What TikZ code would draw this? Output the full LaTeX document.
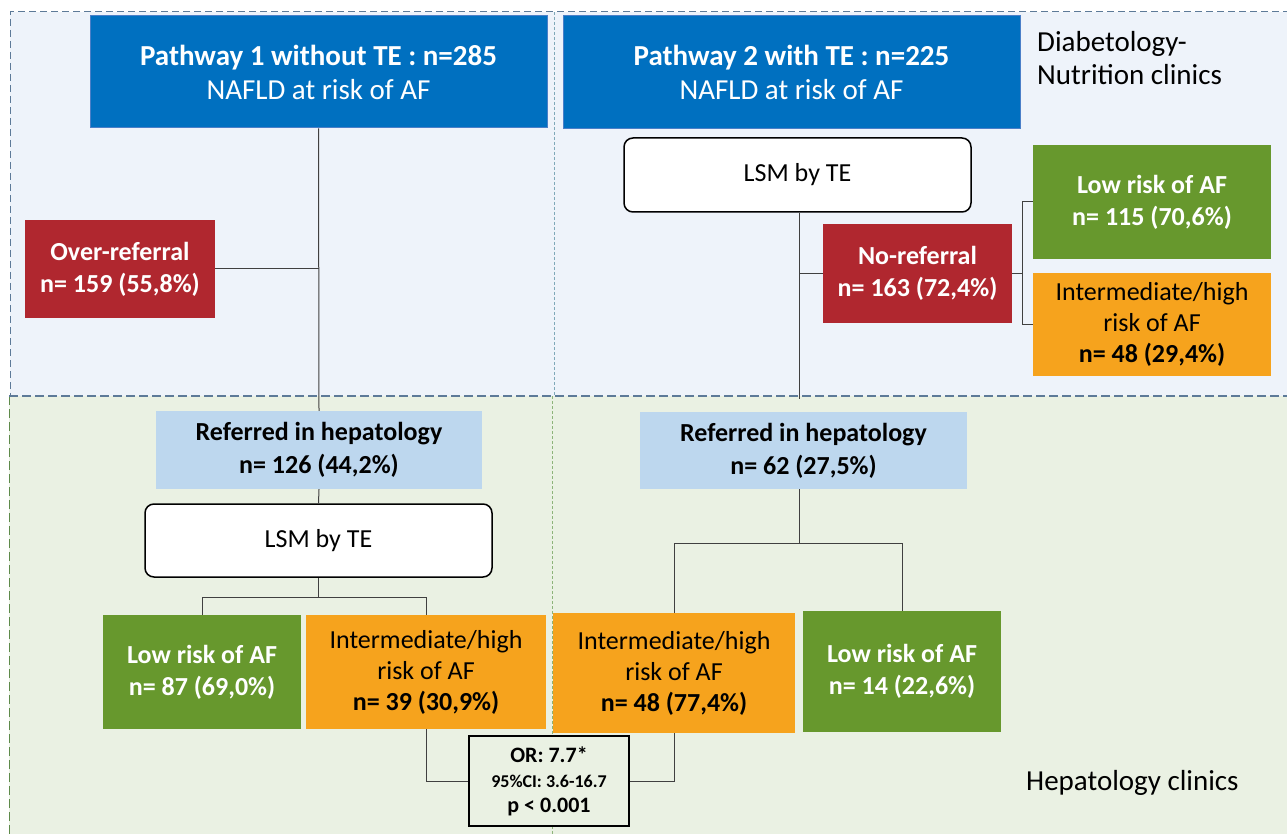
\documentclass[tikz,border=0pt]{standalone}
\usepackage{fontspec}
\setmainfont{Carlito}
\usetikzlibrary{calc}
\definecolor{pblue}{HTML}{0070C0}
\definecolor{pblueedge}{HTML}{4A7FC8}
\definecolor{pred}{HTML}{B0272F}
\definecolor{pgreen}{HTML}{67982D}
\definecolor{porange}{HTML}{F6A31D}
\definecolor{plight}{HTML}{BDD7EE}
\definecolor{topbg}{HTML}{EEF3FA}
\definecolor{botbg}{HTML}{EAF1E3}
\definecolor{topedge}{HTML}{5D7A98}
\definecolor{botedge}{HTML}{5E8A4A}
\definecolor{divtop}{HTML}{7FA8B8}
\definecolor{divbot}{HTML}{8DB47A}
\definecolor{linkc}{HTML}{404040}
\begin{document}
\begin{tikzpicture}[x=1pt,y=-1pt,
  base/.style={inner sep=0pt, align=center, font=\fontsize{26}{31}\selectfont},
  bluebox/.style={base, fill=pblue, draw=pblueedge, line width=1pt, text=white, font=\fontsize{29}{34}\selectfont},
  redbox/.style={base, fill=pred, text=white, font=\fontsize{26}{32}\selectfont\bfseries},
  greenbox/.style={base, fill=pgreen, text=white, font=\fontsize{26}{32}\selectfont\bfseries},
  orangebox/.style={base, fill=porange, text=black},
  lightbox/.style={base, fill=plight, text=black, font=\fontsize{26}{33}\selectfont\bfseries},
  lsmbox/.style={base, fill=white, draw=black, line width=1.5pt, rounded corners=9pt},
  orbox/.style={inner sep=0pt, align=center, draw=black, line width=1.5pt, fill=botbg, font=\fontsize{22}{25}\selectfont},
  zonelabel/.style={inner sep=0pt, align=left, font=\fontsize{29}{33}\selectfont, text=black},
  link/.style={draw=linkc, line width=1pt}
]
\useasboundingbox (0,0) rectangle (1287,834);
% zones
\fill[white] (0,0) rectangle (1287,834);
\fill[topbg] (10,12) rectangle (1290,396);
\fill[botbg] (9,396) rectangle (1290,840);
\draw[topedge, line width=1pt, dash pattern=on 7pt off 4pt] (1290,12) -- (10,12) -- (10,396);
\draw[botedge, line width=1pt, dash pattern=on 9pt off 4pt] (9,396) -- (9,840);
\draw[topedge, line width=1.3pt, dash pattern=on 9pt off 4pt] (9,396) -- (1290,396);
\draw[divtop, line width=0.8pt, dash pattern=on 3pt off 2pt] (554,12) -- (554,396);
\draw[divbot, line width=0.8pt, dash pattern=on 3pt off 2pt] (552,396) -- (552,834);

% top nodes
\node[bluebox, minimum width=457, minimum height=112] (p1) at (318.5,72)
  {{\bfseries Pathway 1 without TE : n=285}\\NAFLD at risk of AF};
\node[bluebox, minimum width=457, minimum height=113] (p2) at (791.5,72.5)
  {{\bfseries Pathway 2 with TE : n=225}\\NAFLD at risk of AF};
\node[zonelabel, anchor=west] (dlab) at (1037,58.5) {Diabetology-\\Nutrition clinics};
\node[redbox, minimum width=190, minimum height=98] (over) at (120,269)
  {Over-referral\\n= 159 (55,8\%)};
\node[lsmbox, minimum width=347, minimum height=74] (lsm2) at (797.5,175) {LSM by TE};
\node[redbox, minimum width=189, minimum height=99] (noref) at (917.5,273.5)
  {No-referral\\n= 163 (72,4\%)};
\node[greenbox, minimum width=238, minimum height=114] (low2) at (1152,202)
  {Low risk of AF\\n= 115 (70,6\%)};
\node[orangebox, minimum width=238, minimum height=103] (int2) at (1152,324.5)
  {Intermediate/high\\risk of AF\\{\bfseries n= 48 (29,4\%)}};

% bottom nodes
\node[lightbox, minimum width=326, minimum height=78] (ref1) at (319,450)
  {Referred in hepatology\\n= 126 (44,2\%)};
\node[lsmbox, minimum width=347, minimum height=73] (lsm1) at (318.5,540.5) {LSM by TE};
\node[greenbox, minimum width=198, minimum height=114] (low1) at (202,672)
  {Low risk of AF\\n= 87 (69,0\%)};
\node[orangebox, minimum width=240, minimum height=114] (int1) at (426,672)
  {Intermediate/high\\risk of AF\\{\bfseries n= 39 (30,9\%)}};
\node[lightbox, minimum width=327, minimum height=77] (ref2) at (803.5,450.5)
  {Referred in hepatology\\n= 62 (27,5\%)};
\node[orangebox, minimum width=242, minimum height=120] (int3) at (674,673)
  {Intermediate/high\\risk of AF\\{\bfseries n= 48 (77,4\%)}};
\node[greenbox, minimum width=198, minimum height=121] (low3) at (902,671.5)
  {Low risk of AF\\n= 14 (22,6\%)};
\node[orbox, minimum width=160, minimum height=90] (or) at (549,781)
  {{\bfseries OR: 7.7*}\\{\fontsize{18}{25}\selectfont\bfseries 95\%CI: 3.6-16.7}\\{\bfseries p < 0.001}};
\node[zonelabel, anchor=west] (hlab) at (1026,783) {Hepatology clinics};

% connectors pathway 1
\draw[link] (p1.south) -- (ref1.north);
\draw[link] (over.east) -- (over.east -| p1.south);
\draw[link] (ref1.south) -- (lsm1.north);
\draw[link] (lsm1.south) -- ++(0,20) coordinate (s1);
\draw[link] (low1.north) |- (s1) -| (int1.north);
\draw[link] (int1.south) |- (or.west);

% connectors pathway 2
\coordinate (e2) at ($(lsm2.south)+(1.5,186)$);
\draw[link] (lsm2.south) ++(1.5,0) -- (e2);
\draw[link] (noref.west) -- (noref.west -| e2);
\coordinate (bk) at ($(low2.west)+(-10,0)$);
\draw[link] (low2.west) -- (bk) |- (int2.west);
\draw[link] (noref.east) -- (noref.east -| bk);
\draw[link] (ref2.south) ++(-4.5,0) coordinate (r2) -- ++(0,54) coordinate (s2);
\draw[link] (int3.north) |- (s2) -| (low3.north);
\draw[link] (int3.south) |- (or.east);
\end{tikzpicture}
\end{document}
